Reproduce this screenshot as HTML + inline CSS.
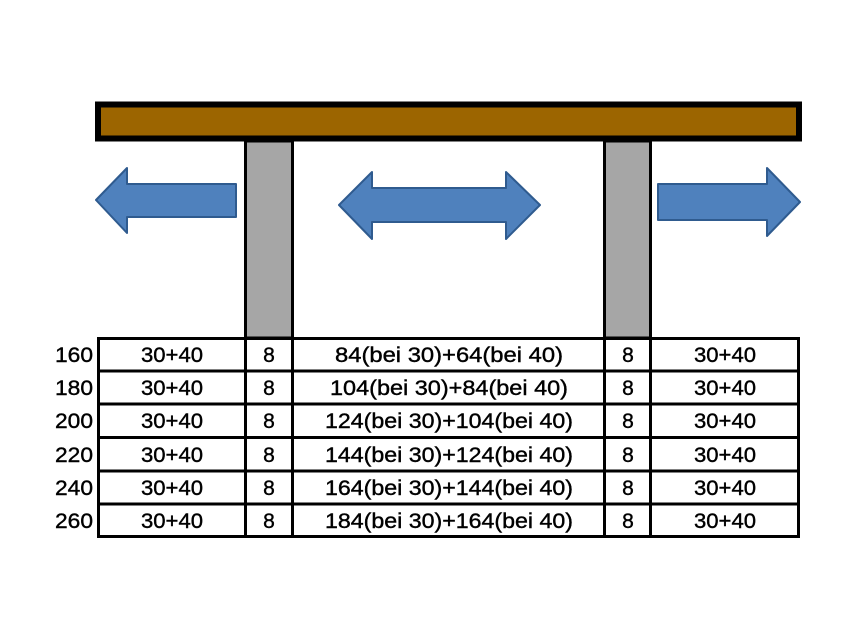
<!DOCTYPE html>
<html><head><meta charset="utf-8"><style>body{margin:0;background:#fff}svg{display:block}</style></head>
<body>
<svg width="857" height="642" viewBox="0 0 857 642" xmlns="http://www.w3.org/2000/svg" font-family="Liberation Sans, sans-serif">
<rect width="857" height="642" fill="#fff"/>
<rect x="98" y="104.5" width="701" height="34" fill="#9c6500" stroke="#000" stroke-width="6"/>
<rect x="245.5" y="141" width="47" height="197" fill="#a6a6a6" stroke="#000" stroke-width="3"/>
<rect x="604.5" y="141" width="46" height="197" fill="#a6a6a6" stroke="#000" stroke-width="3"/>
<g fill="#4f81bd" stroke="#2f5b8f" stroke-width="2" stroke-linejoin="round">
<polygon points="96,200 127,168 127,184 236,184 236,217 127,217 127,233"/>
<polygon points="800,202 767,168 767,184 658,184 658,220 767,220 767,236"/>
<polygon points="339,205 372,172 372,188 506,188 506,172 540,205 506,239 506,222 372,222 372,239"/>
</g>
<g stroke="#000" stroke-width="3" fill="none">
<rect x="98.5" y="338.5" width="700" height="198"/>
<line x1="98" y1="371" x2="799" y2="371"/>
<line x1="98" y1="404" x2="799" y2="404"/>
<line x1="98" y1="437.5" x2="799" y2="437.5"/>
<line x1="98" y1="471" x2="799" y2="471"/>
<line x1="98" y1="504" x2="799" y2="504"/>
<line x1="245.5" y1="338" x2="245.5" y2="537"/>
<line x1="292.5" y1="338" x2="292.5" y2="537"/>
<line x1="604.5" y1="338" x2="604.5" y2="537"/>
<line x1="650.5" y1="338" x2="650.5" y2="537"/>
</g>
<g font-size="21" fill="#000" stroke="#000" stroke-width="0.4" text-anchor="middle">
<g text-anchor="end">
<text x="93" y="362" textLength="38" lengthAdjust="spacingAndGlyphs">160</text>
<text x="93" y="395" textLength="38" lengthAdjust="spacingAndGlyphs">180</text>
<text x="93" y="428" textLength="38" lengthAdjust="spacingAndGlyphs">200</text>
<text x="93" y="462" textLength="38" lengthAdjust="spacingAndGlyphs">220</text>
<text x="93" y="495" textLength="38" lengthAdjust="spacingAndGlyphs">240</text>
<text x="93" y="528" textLength="38" lengthAdjust="spacingAndGlyphs">260</text>
</g>
<g>
<text x="172" y="362" textLength="62" lengthAdjust="spacingAndGlyphs">30+40</text><text x="172" y="395" textLength="62" lengthAdjust="spacingAndGlyphs">30+40</text><text x="172" y="428" textLength="62" lengthAdjust="spacingAndGlyphs">30+40</text><text x="172" y="462" textLength="62" lengthAdjust="spacingAndGlyphs">30+40</text><text x="172" y="495" textLength="62" lengthAdjust="spacingAndGlyphs">30+40</text><text x="172" y="528" textLength="62" lengthAdjust="spacingAndGlyphs">30+40</text>
<text x="725" y="362" textLength="62" lengthAdjust="spacingAndGlyphs">30+40</text><text x="725" y="395" textLength="62" lengthAdjust="spacingAndGlyphs">30+40</text><text x="725" y="428" textLength="62" lengthAdjust="spacingAndGlyphs">30+40</text><text x="725" y="462" textLength="62" lengthAdjust="spacingAndGlyphs">30+40</text><text x="725" y="495" textLength="62" lengthAdjust="spacingAndGlyphs">30+40</text><text x="725" y="528" textLength="62" lengthAdjust="spacingAndGlyphs">30+40</text>
</g>
<text x="269" y="362">8</text><text x="269" y="395">8</text><text x="269" y="428">8</text><text x="269" y="462">8</text><text x="269" y="495">8</text><text x="269" y="528">8</text>
<text x="628" y="362">8</text><text x="628" y="395">8</text><text x="628" y="428">8</text><text x="628" y="462">8</text><text x="628" y="495">8</text><text x="628" y="528">8</text>
<text x="449" y="362" textLength="228" lengthAdjust="spacingAndGlyphs">84(bei 30)+64(bei 40)</text>
<text x="449" y="395" textLength="238" lengthAdjust="spacingAndGlyphs">104(bei 30)+84(bei 40)</text>
<text x="449" y="428" textLength="248" lengthAdjust="spacingAndGlyphs">124(bei 30)+104(bei 40)</text>
<text x="449" y="462" textLength="248" lengthAdjust="spacingAndGlyphs">144(bei 30)+124(bei 40)</text>
<text x="449" y="495" textLength="248" lengthAdjust="spacingAndGlyphs">164(bei 30)+144(bei 40)</text>
<text x="449" y="528" textLength="248" lengthAdjust="spacingAndGlyphs">184(bei 30)+164(bei 40)</text>
</g>
</svg>
</body></html>
